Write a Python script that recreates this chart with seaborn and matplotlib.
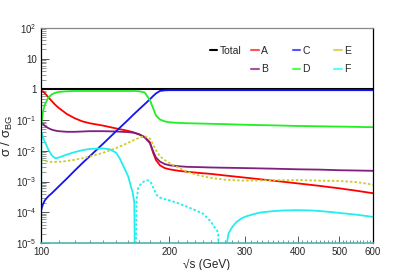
import numpy as np
import pandas as pd
import matplotlib
matplotlib.use("Agg")
import matplotlib.pyplot as plt
from matplotlib.ticker import FixedLocator, FuncFormatter, LogLocator, NullFormatter
from matplotlib.lines import Line2D
import seaborn as sns

# ---------------- data ----------------
x_common = [100, 101, 102, 104, 106, 108, 110, 115, 120, 125, 130, 140, 150, 160, 165,
            170, 175, 180, 183, 186, 190, 195,
            200, 210, 220, 235, 250, 270, 300, 350, 400, 450, 500, 550, 600]

total = [1.0] * 35

a_vals = [0.891, 0.871, 0.759, 0.562, 0.417, 0.316, 0.251, 0.158, 0.115, 9.12e-2, 7.94e-2,
          6.61e-2, 5.37e-2, 4.47e-2, 3.98e-2, 3.39e-2, 2.82e-2, 1.91e-2, 8.91e-3, 5.01e-3,
          3.39e-3, 2.75e-3, 2.51e-3, 2.24e-3, 2.09e-3, 1.91e-3, 1.78e-3, 1.58e-3, 1.35e-3,
          1.07e-3, 8.71e-4, 7.24e-4, 6.03e-4, 5.01e-4, 4.17e-4]

b_vals = [8.91e-2, 7.59e-2, 6.61e-2, 5.50e-2, 4.90e-2, 4.57e-2, 4.37e-2, 4.17e-2, 4.17e-2,
          4.27e-2, 4.37e-2, 4.37e-2, 4.27e-2, 4.07e-2, 3.89e-2, 3.47e-2, 2.75e-2, 1.78e-2,
          1.00e-2, 6.03e-3, 4.47e-3, 3.72e-3, 3.39e-3, 3.16e-3, 3.02e-3, 2.95e-3, 2.88e-3,
          2.82e-3, 2.75e-3, 2.63e-3, 2.51e-3, 2.45e-3, 2.34e-3, 2.29e-3, 2.24e-3]

c_vals = [1.12e-4, 1.78e-4, 2.40e-4, 3.31e-4, 4.17e-4, 5.37e-4, 6.92e-4, 1.26e-3, 2.29e-3,
          3.98e-3, 6.61e-3, 1.74e-2, 4.37e-2, 0.102, 0.155, 0.229, 0.331, 0.479, 0.603,
          0.741, 0.891, 0.933, 0.944, 0.944, 0.944, 0.944, 0.944, 0.944, 0.944, 0.944,
          0.944, 0.944, 0.944, 0.944, 0.944]

d_vals = [5.62e-2, 0.178, 0.316, 0.537, 0.692, 0.776, 0.832, 0.871, 0.891, 0.891, 0.891,
          0.891, 0.891, 0.891, 0.891, 0.871, 0.794, 0.447, 0.251, 0.141, 0.105, 9.12e-2,
          8.51e-2, 8.13e-2, 7.94e-2, 7.76e-2, 7.59e-2, 7.41e-2, 7.08e-2, 6.76e-2, 6.46e-2,
          6.31e-2, 6.17e-2, 6.03e-2, 5.89e-2]

e_vals = [5.01e-3, 4.90e-3, 4.68e-3, 4.47e-3, 4.37e-3, 4.37e-3, 4.37e-3, 4.68e-3, 5.13e-3,
          5.75e-3, 6.46e-3, 8.71e-3, 1.23e-2, 1.82e-2, 2.24e-2, 2.69e-2, 3.02e-2, 2.51e-2,
          1.66e-2, 1.05e-2, 6.61e-3, 5.01e-3, 3.98e-3, 2.82e-3, 2.09e-3, 1.58e-3, 1.32e-3,
          1.15e-3, 1.07e-3, 1.10e-3, 1.12e-3, 1.07e-3, 1.05e-3, 9.55e-4, 7.94e-4]

# F changes sign: negative values are drawn (as magnitude) dotted
f_x = [100, 100.2, 101, 102, 104, 106, 108, 110, 115, 120, 125, 130, 140, 145, 150, 153,
       156, 160, 162, 164, 165.5, 166,
       166.5, 167.5, 169, 172, 175, 178, 181, 184, 187, 190, 195, 200, 210, 220, 230, 240,
       250, 256, 260, 263,
       270, 272, 275, 280, 287, 295, 303, 315, 326, 345, 370, 400, 430, 460, 500, 550, 600]
f_vals = [1e-6, 3.98e-2, 2.82e-2, 2.00e-2, 1.12e-2, 7.08e-3, 5.75e-3, 6.03e-3, 7.59e-3,
          9.12e-3, 1.05e-2, 1.15e-2, 1.20e-2, 1.12e-2, 8.71e-3, 5.62e-3, 3.16e-3, 1.51e-3,
          7.94e-4, 4.47e-4, 2.00e-4, 1e-6,
          -1e-6, -2.51e-4, -6.31e-4, -8.91e-4, -1.05e-3, -1.10e-3, -9.33e-4, -5.62e-4,
          -3.55e-4, -3.02e-4, -2.69e-4, -2.45e-4, -1.95e-4, -1.51e-4, -1.17e-4, -8.91e-5,
          -5.01e-5, -3.02e-5, -2.24e-5, -1e-6,
          1e-6, 7.94e-6, 2.00e-5, 3.16e-5, 4.79e-5, 6.31e-5, 7.41e-5, 8.71e-5, 9.77e-5,
          1.07e-4, 1.15e-4, 1.17e-4, 1.15e-4, 1.07e-4, 9.55e-5, 8.32e-5, 7.08e-5]

series_names = ["Total", "A", "B", "C", "D", "E"]
series_vals = [total, a_vals, b_vals, c_vals, d_vals, e_vals]

x_major = [100, 200, 300, 400, 500, 600]
y_major = [1e-5, 1e-4, 1e-3, 1e-2, 1e-1, 1, 10, 100]

# ---------------- style ----------------
sns.set_style("white")
plt.rcParams["font.family"] = ["Liberation Sans", "DejaVu Sans"]
plt.rcParams["mathtext.fontset"] = "custom"
plt.rcParams["mathtext.rm"] = "Liberation Sans"
plt.rcParams["mathtext.it"] = "Liberation Sans:italic"
plt.rcParams["mathtext.bf"] = "Liberation Sans:bold"

colors = {"Total": "#000000", "A": "#ff0000", "B": "#7f1f7f", "C": "#1414f0",
          "D": "#22ee22", "E": "#cccc33", "F": "#22eeee"}
leg_colors = {"Total": "#000000", "A": "#ff5555", "B": "#a055a0", "C": "#5555ff",
              "D": "#55ff55", "E": "#d8d860", "F": "#55ffff"}

fig = plt.figure(figsize=(4.15, 2.7), dpi=100)
ax = fig.add_axes([41 / 415, 1 - 243 / 270, 332 / 415, 215 / 270])

df = pd.DataFrame({
    "x": np.tile(x_common, len(series_names)),
    "y": np.concatenate(series_vals),
    "series": np.repeat(series_names, len(x_common)),
})

for name in series_names:
    sub = df[df["series"] == name]
    ls = (0, (1.4, 1.1)) if name == "E" else "-"
    lw = 1.5 if name == "Total" else 1.3
    sns.lineplot(data=sub, x="x", y="y", ax=ax, color=colors[name], lw=lw,
                 linestyle=ls, estimator=None, sort=False, legend=False)

# F: split into sign runs
f_x_arr = np.array(f_x)
f_arr = np.array(f_vals)
sign = np.sign(f_arr)
start = 0
for i in range(1, len(f_arr) + 1):
    if i == len(f_arr) or sign[i] != sign[start]:
        seg = pd.DataFrame({"x": f_x_arr[start:i], "y": np.abs(f_arr[start:i])})
        ls = "-" if sign[start] > 0 else (0, (1.4, 1.1))
        sns.lineplot(data=seg, x="x", y="y", ax=ax, color=colors["F"], lw=1.3,
                     linestyle=ls, estimator=None, sort=False, legend=False)
        start = i

ax.set_xscale("log")
ax.set_yscale("log")
ax.set_xlim(100, 600)
ax.set_ylim(1e-5, 1e2)

ax.xaxis.set_major_locator(FixedLocator(x_major))
ax.xaxis.set_minor_locator(FixedLocator([v for v in range(110, 600, 10) if v not in x_major]))
ax.xaxis.set_major_formatter(FuncFormatter(lambda v, p: f"{int(round(v))}"))
ax.xaxis.set_minor_formatter(NullFormatter())


def yfmt(v, p):
    e = int(round(np.log10(v)))
    if e == 0:
        return "1"
    if e == 1:
        return "10"
    return r"$10^{%d}$" % e


ax.yaxis.set_major_locator(FixedLocator(y_major))
ax.yaxis.set_major_formatter(FuncFormatter(yfmt))
ax.yaxis.set_minor_locator(LogLocator(base=10, subs=np.arange(2, 10), numticks=20))
ax.yaxis.set_minor_formatter(NullFormatter())

ax.tick_params(axis="x", which="major", direction="in", length=5, width=0.7,
               color="#555555", labelsize=7, pad=3, bottom=True, top=False)
ax.tick_params(axis="y", which="major", direction="in", length=6, width=0.7,
               color="#555555", labelsize=7, pad=3, left=True, right=False)
ax.tick_params(axis="x", which="minor", direction="in", length=2.5, width=0.6,
               color="#777777", bottom=True, top=False)
ax.tick_params(axis="y", which="minor", direction="in", length=3.5, width=0.6,
               color="#888888", left=True, right=False)

for s in ["left", "right"]:
    ax.spines[s].set_color("#000000")
    ax.spines[s].set_linewidth(0.9)
ax.spines["top"].set_color("#888888")
ax.spines["top"].set_linewidth(0.9)
ax.spines["bottom"].set_color("#4db3b3")
ax.spines["bottom"].set_linewidth(1.2)

ax.set_xlabel("√s (GeV)", fontsize=8.5, labelpad=1)
ax.set_ylabel(r"σ / σ$_{\mathrm{BG}}$", fontsize=9.5)
ax.yaxis.set_label_coords(-0.1, 0.5)
ax.yaxis.label.set_verticalalignment("center")

# legend: four fixed-width columns as in the reference
cols = [["Total"], ["A", "B"], ["C", "D"], ["E", "F"]]
col_x = [0.508, 0.632, 0.758, 0.882]
legs = []
for names, cx in zip(cols, col_x):
    handles = [Line2D([0], [0], color=leg_colors[n], lw=1.5) for n in names]
    lg = ax.legend(handles, names, loc="upper left", bbox_to_anchor=(cx, 0.918),
                   frameon=False, fontsize=7.5, handlelength=0.75, handletextpad=0.2,
                   labelspacing=0.85, borderpad=0, borderaxespad=0)
    legs.append(lg)
for lg in legs[:-1]:
    ax.add_artist(lg)

fig.savefig("out.png", dpi=100)
